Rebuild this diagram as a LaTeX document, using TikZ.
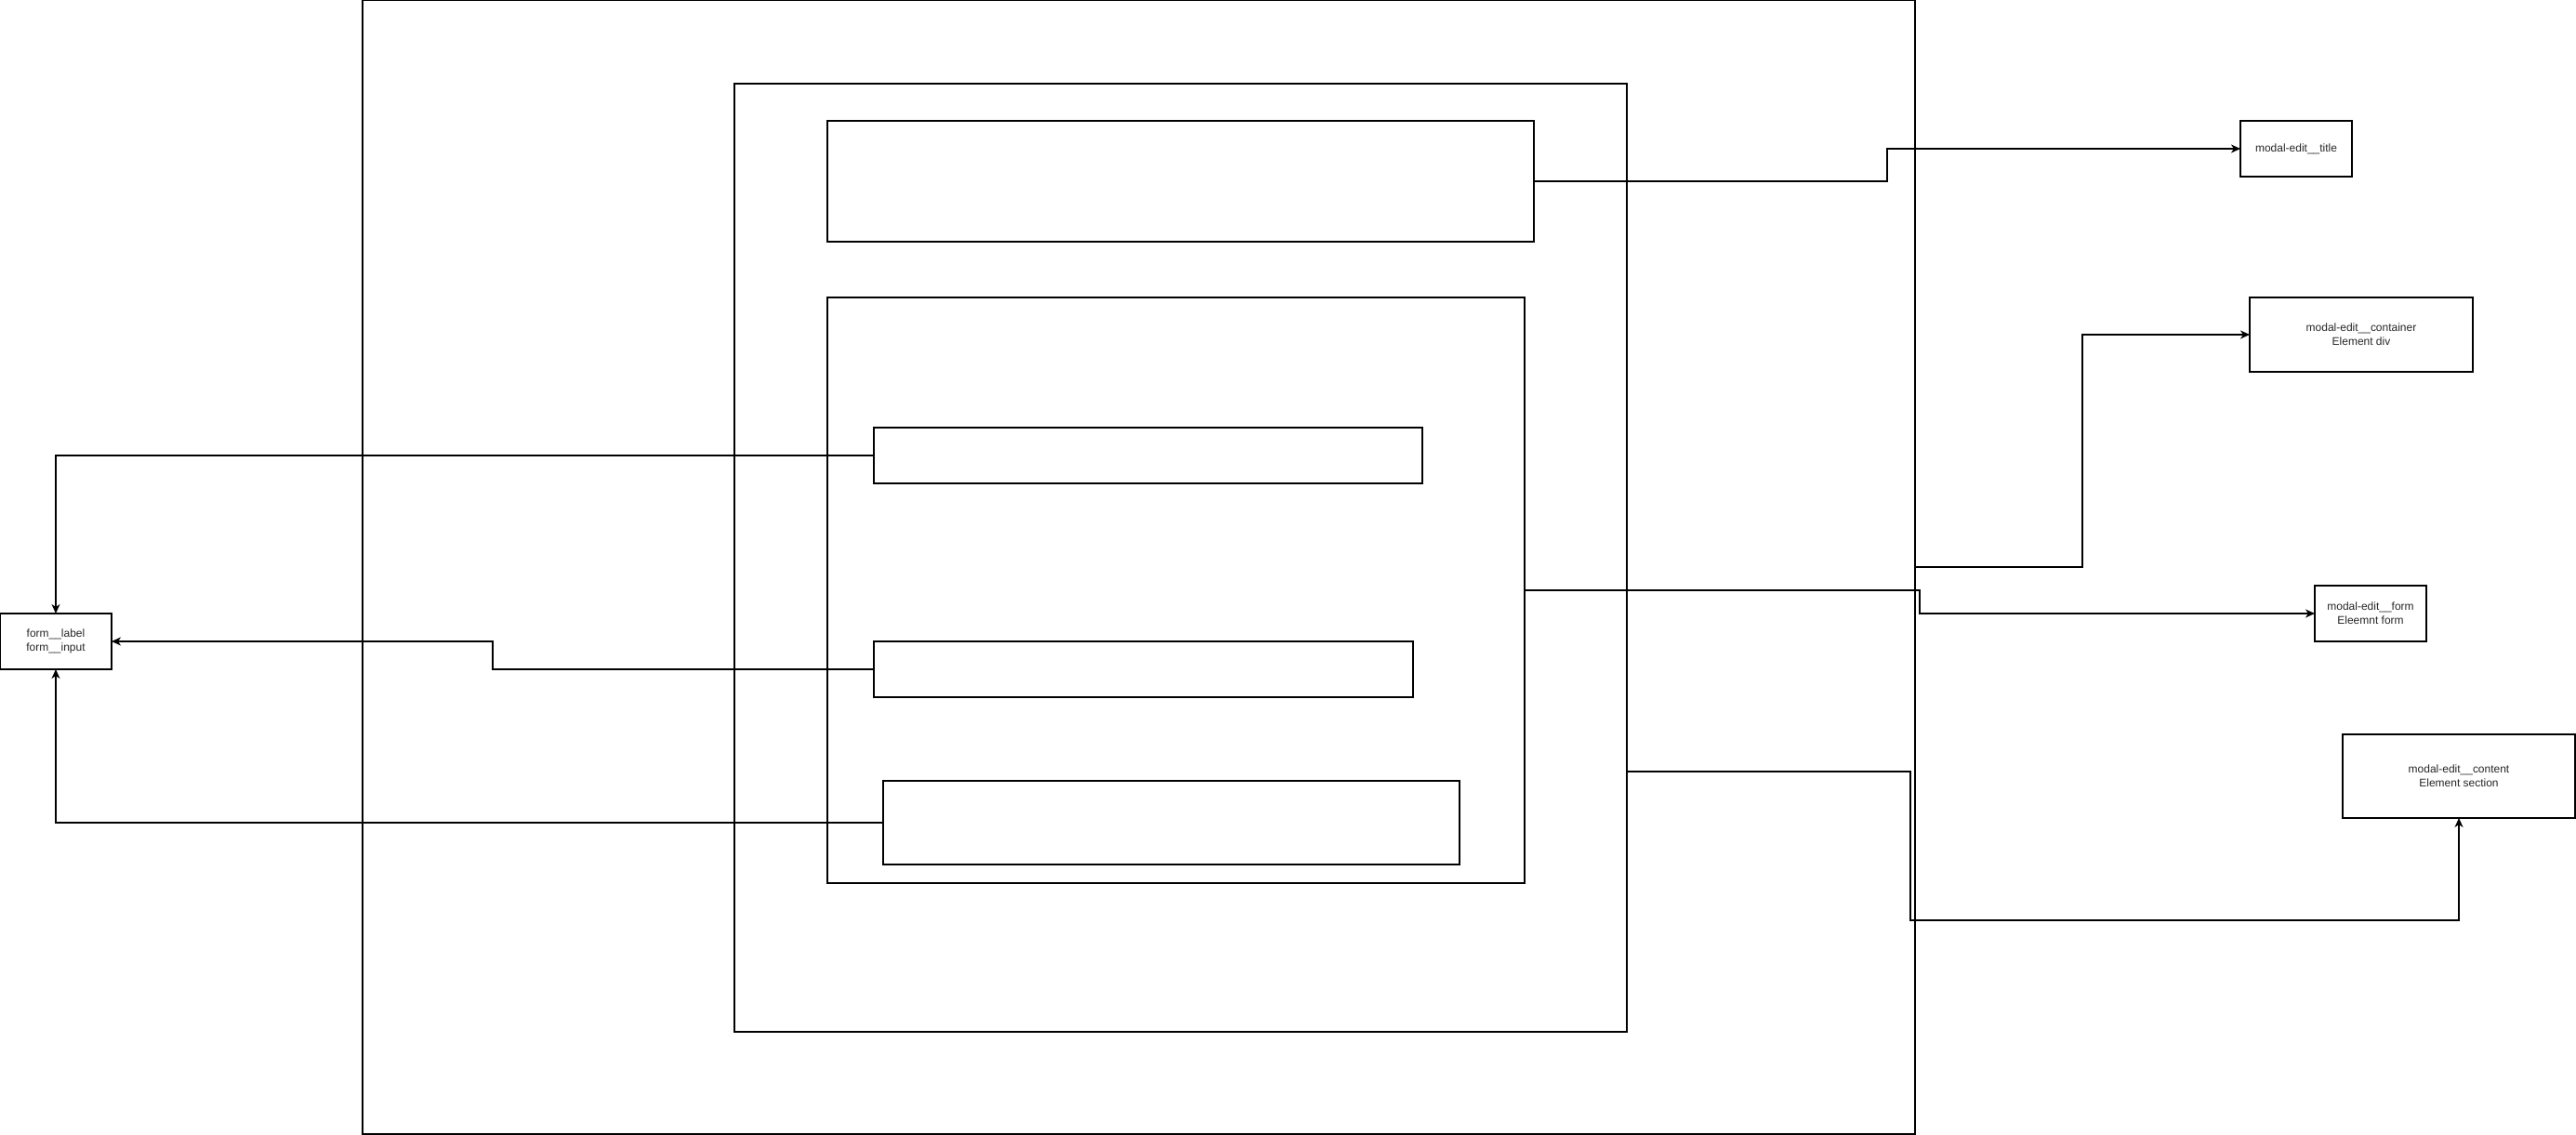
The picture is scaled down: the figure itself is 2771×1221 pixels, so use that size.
\documentclass[tikz,border=0pt]{standalone}
\usepackage{fontspec}
\setmainfont{Liberation Sans}
\usetikzlibrary{arrows.meta}
\begin{document}
\begin{tikzpicture}[x=0.1mm,y=-0.1mm,
  box/.style={draw=black,line width=0.14mm,inner sep=0pt,outer sep=0pt,fill=none,
    font=\fontsize{3.41pt}{4.27pt}\selectfont,align=center,text=black!85},
  conn/.style={draw=black,line width=0.14mm,-{Stealth[length=1mm,width=0.9mm,inset=0.3mm]}}]
\useasboundingbox (0,0) rectangle (2771,1221);
% nested layout boxes
\node[box,minimum width=167mm,minimum height=122mm] (outer) at (1225,610) {};
\node[box,minimum width=96mm,minimum height=102mm] (content) at (1270,600) {};
\node[box,minimum width=76mm,minimum height=13mm] (titlebox) at (1270,195) {};
\node[box,minimum width=75mm,minimum height=63mm] (formbox) at (1265,635) {};
\node[box,minimum width=59mm,minimum height=6mm] (f1) at (1235,490) {};
\node[box,minimum width=58mm,minimum height=6mm] (f2) at (1230,720) {};
\node[box,minimum width=62mm,minimum height=9mm] (f3) at (1260,885) {};
% labels
\node[box,minimum width=12mm,minimum height=6mm] (lbl) at (60,690) {form\_\_label\\form\_\_input};
\node[box,minimum width=12mm,minimum height=6mm] (ntitle) at (2470,160) {modal-edit\_\_title};
\node[box,minimum width=24mm,minimum height=8mm] (ncont) at (2540,360) {modal-edit\_\_container\\Element div};
\node[box,minimum width=12mm,minimum height=6mm] (nform) at (2550,660) {modal-edit\_\_form\\Eleemnt form};
\node[box,minimum width=25mm,minimum height=9mm] (ncontent) at (2645,835) {modal-edit\_\_content\\Element section};
% connectors
\draw[conn] (titlebox.east) -- ++(380,0) |- (ntitle.west);
\draw[conn] (outer.east) -- ++(180,0) |- (ncont.west);
\draw[conn] (formbox.east) -- ++(425,0) |- (nform.west);
\coordinate (cx) at (1750,830);
\draw[conn] (cx) -- (2055,830) -- (2055,990) -| (ncontent.south);
\draw[conn] (f1.west) -| (lbl.north);
\draw[conn] (f2.west) -- (530,720) |- (lbl.east);
\draw[conn] (f3.west) -| (lbl.south);
\end{tikzpicture}
\end{document}
